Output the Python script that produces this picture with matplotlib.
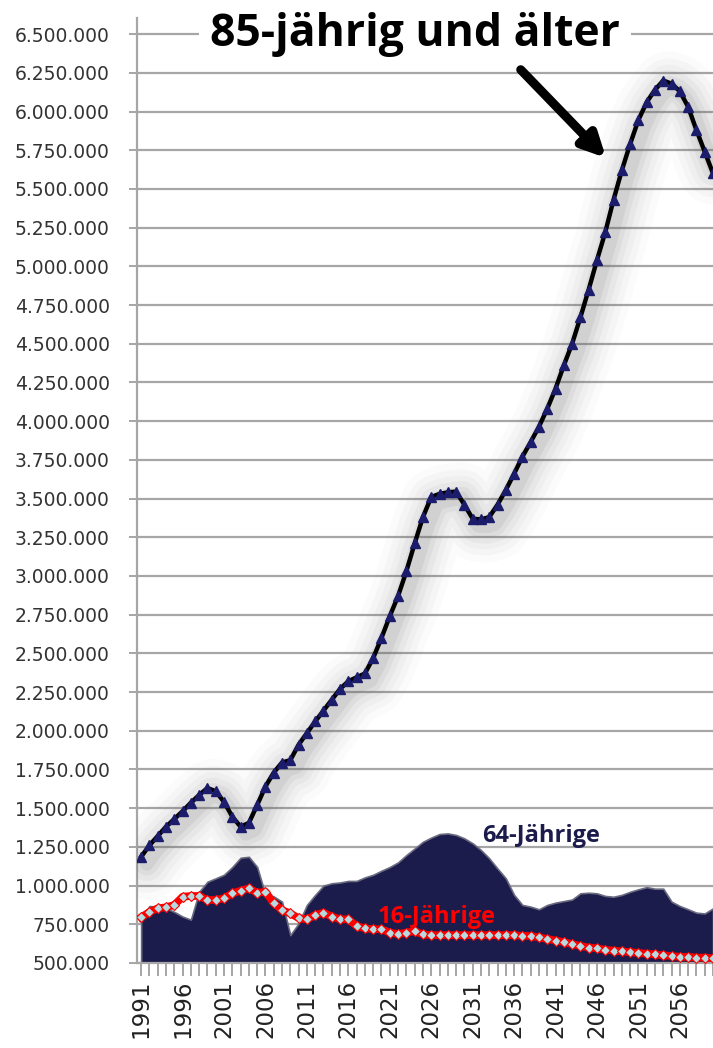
import matplotlib
matplotlib.use('Agg')
import matplotlib.pyplot as plt
import matplotlib.transforms as mtransforms
from matplotlib.ticker import FuncFormatter

years = list(range(1991, 2061))

age85_plus = [1186, 1260, 1320, 1380, 1430, 1480, 1535, 1585, 1630, 1610,
              1540, 1445, 1380, 1405, 1520, 1640, 1730, 1795, 1810, 1910,
              1985, 2060, 2130, 2200, 2270, 2320, 2345, 2370, 2470, 2600,
              2740, 2870, 3030, 3210, 3380, 3510, 3530, 3540, 3545, 3460,
              3370, 3365, 3380, 3460, 3555, 3660, 3770, 3865, 3964, 4080,
              4210, 4360, 4500, 4670, 4850, 5040, 5220, 5430, 5620, 5790,
              5945, 6060, 6140, 6200, 6180, 6130, 6030, 5880, 5740, 5600]

age64 = [778, 868, 864, 855, 830, 800, 780, 960, 1025, 1047,
         1070, 1120, 1180, 1186, 1120, 940, 930, 896, 680, 756,
         875, 940, 1000, 1015, 1020, 1030, 1030, 1053, 1070, 1096,
         1120, 1150, 1197, 1240, 1283, 1310, 1333, 1337, 1327, 1305,
         1273, 1230, 1176, 1110, 1047, 940, 875, 864, 847, 875,
         890, 900, 910, 950, 954, 950, 933, 928, 940, 960,
         976, 990, 980, 980, 896, 868, 847, 825, 820, 853]

age16 = [795, 830, 853, 860, 875, 928, 933, 933, 907, 907,
         918, 950, 967, 982, 954, 960, 886, 842, 820, 790,
         782, 810, 825, 800, 782, 782, 739, 724, 718, 718,
         696, 687, 696, 705, 685, 680, 680, 680, 680, 680,
         680, 680, 680, 680, 680, 680, 675, 675, 665, 655,
         645, 635, 622, 610, 600, 595, 585, 580, 575, 570,
         565, 560, 555, 550, 545, 540, 540, 535, 535, 530]

y_ticks = list(range(500000, 6500001, 250000))

title_text = "85-jährig und älter"
label64 = "64-Jährige"
label16 = "16-Jährige"

v85 = [v * 1000 for v in age85_plus]
v64 = [v * 1000 for v in age64]
v16 = [v * 1000 for v in age16]

fig = plt.figure(figsize=(7.13, 10.48), dpi=100)
ax = fig.add_axes([137 / 713, 1 - 963 / 1048, 1 - 137 / 713, (963 - 18) / 1048])

ax.set_ylim(500000, 6604000)
ax.set_xlim(1990.5, 2059.9)

grid_c = '#a6a6a6'
ax.set_yticks(y_ticks)
ax.yaxis.set_major_formatter(FuncFormatter(lambda v, p: f"{int(v):,}".replace(',', '.')))
ax.grid(axis='y', color=grid_c, lw=1.6, zorder=0)
ax.set_axisbelow(True)
ax.tick_params(axis='y', length=5.5, width=1.4, color=grid_c, labelsize=13.5,
               labelcolor='#333333', pad=14)

ax.set_xticks(years)
ax.set_xticklabels([str(y) if (y - 1991) % 5 == 0 else '' for y in years],
                   rotation=90, fontsize=16.5, color='#222222')
ax.tick_params(axis='x', length=9, width=1.4, color=grid_c, pad=3)

for s in ['top', 'right']:
    ax.spines[s].set_visible(False)
for s in ['left', 'bottom']:
    ax.spines[s].set_color(grid_c)
    ax.spines[s].set_linewidth(1.6)

# area for 64-year-olds
ax.fill_between(years, 500000, v64, color='#1c1c4c', lw=1.2, edgecolor='#6a6a80', zorder=2)

# glow shadow for the 85+ line
for lw, a in [(52, 0.025), (42, 0.035), (33, 0.045), (25, 0.06), (17, 0.08), (10, 0.1)]:
    tr = ax.transData + mtransforms.ScaledTranslation(4 / 72, -5 / 72, fig.dpi_scale_trans)
    ax.plot(years, v85, color='#6a6a6a', lw=lw, alpha=a, solid_capstyle='round',
            solid_joinstyle='round', transform=tr, zorder=3)

ax.plot(years, v85, color='black', lw=3.2, zorder=5, solid_joinstyle='round')
ax.plot(years, v85, ls='none', marker='^', ms=6.5, color='#1c1c6c', mec='#1c1c6c', zorder=6)

# 16-year-olds
ax.plot(years, v16, color='#ff0000', lw=5.5, zorder=7, solid_joinstyle='round')
ax.plot(years, v16, ls='none', marker='D', ms=5, mfc='#b5dbe0', mec='#ff0000', mew=0.8, zorder=8)

# labels
ax.text(2039.2, 1320000, label64, fontsize=17, fontweight='bold', color='#1c1c4c',
        family='Open Sans', ha='center', va='center', zorder=9)
ax.text(2026.7, 795000, label16, fontsize=17, fontweight='bold', color='#ff0000',
        family='Open Sans', ha='center', va='center', zorder=9)

# title
ax.text(2024.0, 6500000, title_text, fontsize=32, fontweight='bold', color='black',
        family='Open Sans', ha='center', va='center', zorder=10,
        bbox=dict(facecolor='white', edgecolor='none', pad=8))

# arrow
ax.annotate('', xy=(2047.1, 5700000), xytext=(2036.8, 6270000),
            arrowprops=dict(arrowstyle='-|>', lw=6.5, color='black', mutation_scale=34,
                            shrinkA=0, shrinkB=0), zorder=10)

fig.savefig('out.png', dpi=100)
